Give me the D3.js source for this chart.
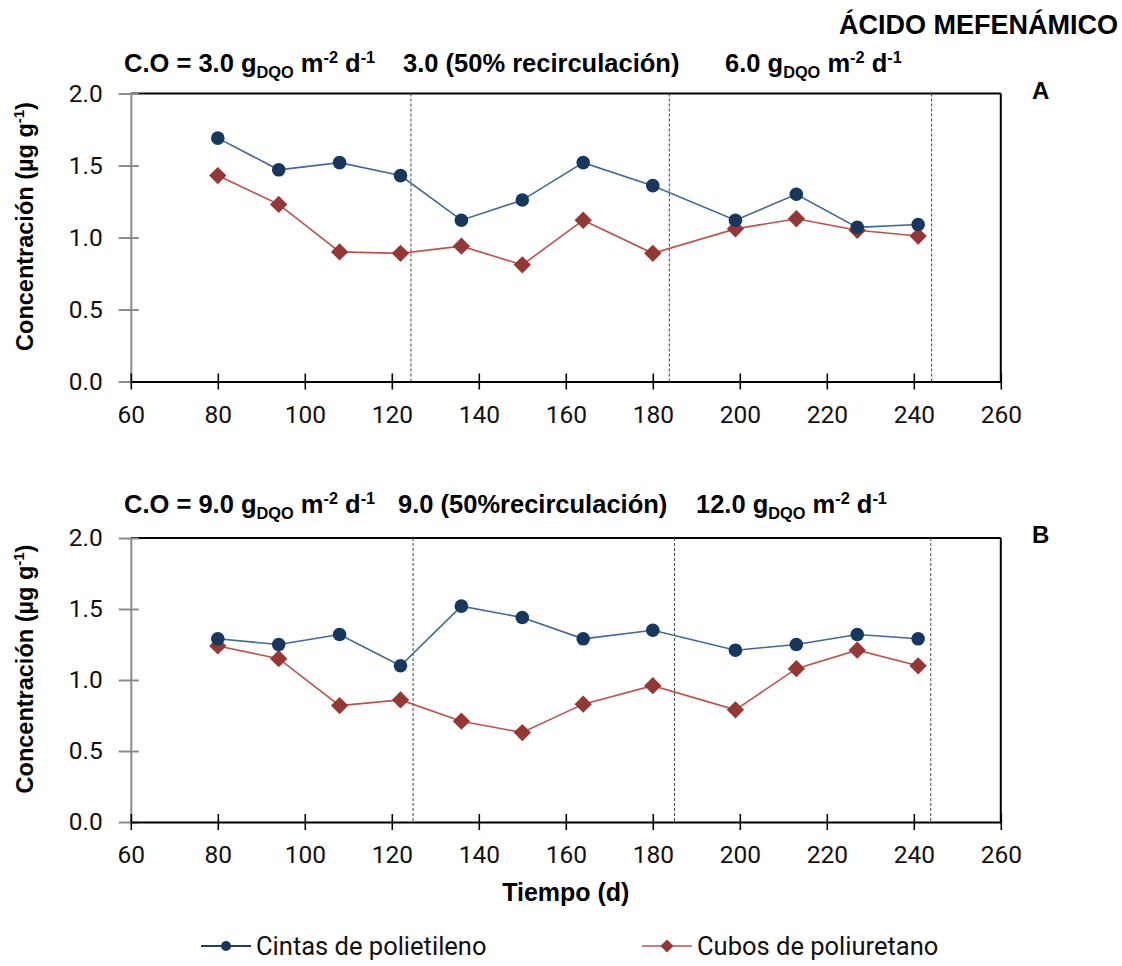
<!DOCTYPE html>
<html>
<head>
<meta charset="utf-8">
<script src="https://cdn.jsdelivr.net/npm/d3@7"></script>
<style>
  html, body { margin: 0; padding: 0; background: #fff; }
  svg { display: block; }
</style>
</head>
<body>
<svg id="chart" width="1122" height="966"></svg>
<script>
// Sampling days (d)
const days = [80, 94, 108, 122, 136, 150, 164, 180, 199, 213, 227, 241];

// Panel A — concentración (µg g-1)
const cintasA = [1.69, 1.47, 1.52, 1.43, 1.12, 1.26, 1.52, 1.36, 1.12, 1.30, 1.07, 1.09];
const cubosA  = [1.43, 1.23, 0.90, 0.89, 0.94, 0.81, 1.12, 0.89, 1.06, 1.13, 1.05, 1.01];

// Panel B — concentración (µg g-1)
const cintasB = [1.29, 1.25, 1.32, 1.10, 1.52, 1.44, 1.29, 1.35, 1.21, 1.25, 1.32, 1.29];
const cubosB  = [1.24, 1.15, 0.82, 0.86, 0.71, 0.63, 0.83, 0.96, 0.79, 1.08, 1.21, 1.10];

// Phase boundaries (d)
const phasesA = [124.4, 183.8, 244.1];
const phasesB = [124.9, 185.0, 243.9];

// Axis ticks
const xTicks = [60, 80, 100, 120, 140, 160, 180, 200, 220, 240, 260];
const yTicks = [0, 0.5, 1.0, 1.5, 2.0];

// Series names
const seriesNames = ["Cintas de polietileno", "Cubos de poliuretano"];

// Phase headers (rich text parts)
const headersA = [
  [{t: "C.O = 3.0 g"}, {t: "DQO", sub: true}, {t: " m"}, {t: "-2", sup: true}, {t: " d"}, {t: "-1", sup: true}],
  [{t: "3.0 (50% recirculación)"}],
  [{t: "6.0 g"}, {t: "DQO", sub: true}, {t: " m"}, {t: "-2", sup: true}, {t: " d"}, {t: "-1", sup: true}]
];
const headersB = [
  [{t: "C.O = 9.0 g"}, {t: "DQO", sub: true}, {t: " m"}, {t: "-2", sup: true}, {t: " d"}, {t: "-1", sup: true}],
  [{t: "9.0 (50%recirculación)"}],
  [{t: "12.0 g"}, {t: "DQO", sub: true}, {t: " m"}, {t: "-2", sup: true}, {t: " d"}, {t: "-1", sup: true}]
];

const svg = d3.select("#chart");
const boldFont = "'Liberation Sans', Arial, sans-serif";
const tickFont = "Roboto, 'Liberation Sans', sans-serif";

const blueMark = "#17375e", blueLine = "#41689a";
const redMark = "#953735", redLine = "#c0504d";

function richText(g, x, y, parts, size) {
  const t = g.append("text")
    .attr("x", x).attr("y", y)
    .attr("font-family", boldFont)
    .attr("font-weight", "bold")
    .attr("font-size", size)
    .attr("fill", "#000");
  let shift = 0;
  parts.forEach(p => {
    let target = 0, fs = size;
    if (p.sub) { target = 6; fs = size * 0.64; }
    if (p.sup) { target = -9; fs = size * 0.64; }
    t.append("tspan")
      .attr("dy", target - shift)
      .attr("font-size", fs)
      .text(p.t);
    shift = target;
  });
  return t;
}

function panel(cfg) {
  const left = 130.8, right = 1000.8;
  const x = d3.scaleLinear().domain([60, 260]).range([left, right]);
  const y = d3.scaleLinear().domain([0, 2]).range([cfg.bottom, cfg.top]);
  const g = svg.append("g");

  // frame: top and right borders
  g.append("line").attr("x1", left).attr("x2", right).attr("y1", cfg.top).attr("y2", cfg.top)
    .attr("stroke", "#000").attr("stroke-width", 2);
  g.append("line").attr("x1", right).attr("x2", right).attr("y1", cfg.top).attr("y2", cfg.bottom)
    .attr("stroke", "#000").attr("stroke-width", 2);

  // phase separators
  g.selectAll(".phase").data(cfg.phases).join("line")
    .attr("x1", d => x(d)).attr("x2", d => x(d))
    .attr("y1", cfg.top).attr("y2", cfg.bottom)
    .attr("stroke", "#444").attr("stroke-width", 1)
    .attr("stroke-dasharray", "3,2");

  // y axis
  const yAxis = d3.axisLeft(y).tickValues(yTicks).tickFormat(d3.format(".1f"))
    .tickSizeInner(12).tickSizeOuter(0).tickPadding(16);
  const ya = g.append("g").attr("transform", `translate(${left},0)`).call(yAxis);
  ya.select(".domain").attr("stroke", "#8a8a8a").attr("stroke-width", 2);
  ya.selectAll(".tick line").attr("stroke", "#8a8a8a").attr("stroke-width", 2).attr("x2", -12).attr("x1", 8);
  ya.selectAll(".tick text").attr("font-family", tickFont).attr("font-size", 24.5).attr("fill", "#111");

  // x axis
  const xAxis = d3.axisBottom(x).tickValues(xTicks).tickFormat(d3.format("d"))
    .tickSizeInner(8).tickSizeOuter(0).tickPadding(16);
  const xa = g.append("g").attr("transform", `translate(0,${cfg.bottom})`).call(xAxis);
  xa.select(".domain").attr("stroke", "#000").attr("stroke-width", 2.2);
  xa.selectAll(".tick line").attr("stroke", "#000").attr("stroke-width", 1.6).attr("y1", -8).attr("y2", 8);
  xa.selectAll(".tick text").attr("font-family", tickFont).attr("font-size", 24.5).attr("fill", "#111");

  // y axis title
  const ty = richText(g, 0, 0,
    [{t: "Concentración (µg g"}, {t: "-1", sup: true}, {t: ")"}], 23.5);
  ty.attr("text-anchor", "middle")
    .attr("transform", `translate(33,${(cfg.top + cfg.bottom) / 2 - 11}) rotate(-90)`);

  // series
  const line = d3.line().x((d, i) => x(days[i])).y(d => y(d));
  g.append("path").datum(cfg.cubos).attr("d", line)
    .attr("fill", "none").attr("stroke", redLine).attr("stroke-width", 1.6);
  g.append("path").datum(cfg.cintas).attr("d", line)
    .attr("fill", "none").attr("stroke", blueLine).attr("stroke-width", 1.6);

  const diamond = d3.symbol().type(d3.symbolSquare).size(150);
  g.selectAll(".cubo").data(cfg.cubos).join("path")
    .attr("d", diamond)
    .attr("transform", (d, i) => `translate(${x(days[i])},${y(d)}) rotate(45)`)
    .attr("fill", redMark);
  g.selectAll(".cinta").data(cfg.cintas).join("circle")
    .attr("cx", (d, i) => x(days[i])).attr("cy", d => y(d)).attr("r", 6.8)
    .attr("fill", blueMark);

  // phase headers
  cfg.headerX.forEach((hx, i) => richText(g, hx, cfg.headerY, cfg.headers[i], 25.5));

  // panel letter
  g.append("text").attr("x", 1032).attr("y", cfg.top + 5)
    .attr("font-family", boldFont).attr("font-weight", "bold").attr("font-size", 24)
    .text(cfg.letter);

  return x;
}

const xA = panel({top: 93.5, bottom: 381.5, cintas: cintasA, cubos: cubosA, phases: phasesA,
  headers: headersA, headerX: [124, 403, 725], headerY: 72, letter: "A"});
panel({top: 538, bottom: 822, cintas: cintasB, cubos: cubosB, phases: phasesB,
  headers: headersB, headerX: [124, 398, 696], headerY: 513, letter: "B"});

// title
svg.append("text").attr("x", 1118).attr("y", 34).attr("text-anchor", "end")
  .attr("font-family", boldFont).attr("font-weight", "bold").attr("font-size", 27)
  .text("ÁCIDO MEFENÁMICO");

// x axis title
svg.append("text").attr("x", xA(160)).attr("y", 901).attr("text-anchor", "middle")
  .attr("font-family", boldFont).attr("font-weight", "bold").attr("font-size", 25)
  .text("Tiempo (d)");

// legend
const legendY = 946;
const leg = svg.append("g");
const legItems = [
  {x: 201, name: seriesNames[0], line: "#1f3d6b", mark: "circle", fill: blueMark},
  {x: 642, name: seriesNames[1], line: "#cf7b79", mark: "diamond", fill: redMark}
];
legItems.forEach(it => {
  leg.append("line").attr("x1", it.x).attr("x2", it.x + 50).attr("y1", legendY).attr("y2", legendY)
    .attr("stroke", it.line).attr("stroke-width", 2);
  if (it.mark === "circle") {
    leg.append("circle").attr("cx", it.x + 25).attr("cy", legendY).attr("r", 5).attr("fill", it.fill);
  } else {
    leg.append("path").attr("d", d3.symbol().type(d3.symbolSquare).size(85))
      .attr("transform", `translate(${it.x + 25},${legendY}) rotate(45)`).attr("fill", it.fill);
  }
  leg.append("text").attr("x", it.x + 55).attr("y", legendY + 9)
    .attr("font-family", tickFont).attr("font-size", 25.5).attr("fill", "#111")
    .text(it.name);
});
</script>
</body>
</html>
